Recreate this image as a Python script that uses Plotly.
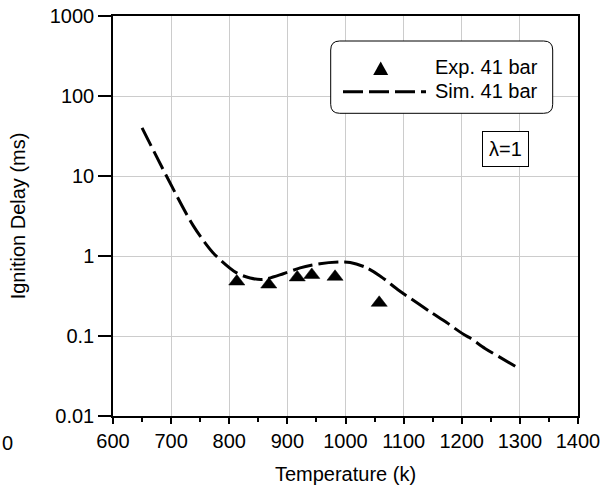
import plotly.graph_objects as go

# ---- data ----
exp_temp = [813, 868, 917, 942, 982, 1058]
exp_delay = [0.48, 0.44, 0.54, 0.58, 0.55, 0.26]

sim_temp = [650, 692, 738, 772, 812, 836, 858, 893, 922, 956, 990, 1008,
            1035, 1060, 1092, 1123, 1146, 1174, 1203, 1214, 1240, 1266, 1294]
sim_delay = [40, 10, 2.4, 1.1, 0.62, 0.53, 0.51, 0.6, 0.71, 0.8, 0.84, 0.83,
             0.72, 0.56, 0.37, 0.26, 0.2, 0.147, 0.105, 0.095, 0.07, 0.054, 0.041]

y_tickvals = [0.01, 0.1, 1, 10, 100, 1000]
y_ticktext = ["0.01", "0.1", "1", "10", "100", "1000"]
x_tickvals = [600, 700, 800, 900, 1000, 1100, 1200, 1300, 1400]

FONT = "Liberation Sans, Arial, sans-serif"

# plot-area pixel geometry (for decorations in paper coords)
L, R, T, B = 113, 578, 16, 416
W, H = 608, 492


def px(x):
    return (x - L) / (R - L)


def py(y):
    return (B - y) / (B - T)


fig = go.Figure()

fig.add_trace(go.Scatter(
    x=sim_temp, y=sim_delay, mode="lines",
    line=dict(color="black", width=3, dash="20px,6px", shape="spline", smoothing=0.8),
    name="Sim. 41 bar", showlegend=False, hoverinfo="skip"))

fig.add_trace(go.Scatter(
    x=exp_temp, y=exp_delay, mode="markers",
    marker=dict(symbol="triangle-up", size=14, color="black", line=dict(color="black", width=0.5)),
    name="Exp. 41 bar", showlegend=False))

# ---- legend box (manual) ----
xa, xb, ya, yb = px(330.7), px(552.7), py(113.3), py(41)
rx, ry = 9 / (R - L), 9 / (B - T)
path = (f"M {xa+rx},{yb} L {xb-rx},{yb} Q {xb},{yb} {xb},{yb-ry} "
        f"L {xb},{ya+ry} Q {xb},{ya} {xb-rx},{ya} L {xa+rx},{ya} "
        f"Q {xa},{ya} {xa},{ya+ry} L {xa},{yb-ry} Q {xa},{yb} {xa+rx},{yb} Z")
shapes = [
    dict(type="path", path=path, xref="paper", yref="paper",
         line=dict(color="black", width=1), fillcolor="white", layer="above"),
]
# triangle symbol
cx, cy = 380.7, 68.5
tri = (f"M {px(cx-7.5)},{py(cy+6.5)} L {px(cx+7.5)},{py(cy+6.5)} "
       f"L {px(cx)},{py(cy-7)} Z")
shapes.append(dict(type="path", path=tri, xref="paper", yref="paper",
                   line=dict(color="black", width=0), fillcolor="black", layer="above"))
# dashed line symbol
shapes.append(dict(type="line", xref="paper", yref="paper",
                   x0=px(343), x1=px(426), y0=py(91.7), y1=py(91.7),
                   line=dict(color="black", width=3, dash="20px,6px"), layer="above"))

annotations = [
    dict(text="Exp. 41 bar", x=px(540), y=py(67), xref="paper", yref="paper",
         xanchor="right", yanchor="middle", showarrow=False,
         font=dict(family=FONT, size=20, color="black")),
    dict(text="Sim. 41 bar", x=px(540), y=py(91.5), xref="paper", yref="paper",
         xanchor="right", yanchor="middle", showarrow=False,
         font=dict(family=FONT, size=20, color="black")),
    dict(text="λ=1", x=px(505), y=py(149), xref="paper", yref="paper",
         xanchor="center", yanchor="middle", showarrow=False,
         bordercolor="black", borderwidth=1, borderpad=6, bgcolor="white",
         font=dict(family=FONT, size=20, color="black")),
    dict(text="0", x=px(0), y=py(443), xref="paper", yref="paper",
         xanchor="left", yanchor="middle", showarrow=False,
         font=dict(family=FONT, size=20, color="black")),
]

fig.update_layout(
    width=W, height=H,
    margin=dict(l=L, r=W - R, t=T, b=H - B, autoexpand=False),
    paper_bgcolor="white", plot_bgcolor="white",
    font=dict(family=FONT, size=20, color="black"),
    shapes=shapes, annotations=annotations,
    showlegend=False,
)

fig.update_xaxes(
    range=[600, 1400], tickvals=x_tickvals, automargin=False,
    ticks="outside", ticklen=6, tickwidth=1.5, tickcolor="black",
    minor=dict(ticks="outside", ticklen=4, dtick=50, tickcolor="black", showgrid=False),
    showgrid=True, gridcolor="#cccccc", gridwidth=1,
    showline=True, linecolor="black", linewidth=1.5, mirror=True,
    zeroline=False,
    tickfont=dict(family=FONT, size=20, color="black"),
    title=dict(text="Temperature (k)", font=dict(family=FONT, size=20, color="black"), standoff=16),
)

fig.update_yaxes(
    type="log", range=[-2, 3], tickvals=y_tickvals, ticktext=y_ticktext, automargin=False,
    ticks="outside", ticklen=13, tickwidth=1.5, tickcolor="black",
    showgrid=True, gridcolor="#cccccc", gridwidth=1,
    showline=True, linecolor="black", linewidth=1.5, mirror=True,
    zeroline=False,
    tickfont=dict(family=FONT, size=20, color="black"),
    title=dict(text="Ignition Delay (ms)", font=dict(family=FONT, size=20, color="black"), standoff=19),
)

fig.write_html("out.html")
